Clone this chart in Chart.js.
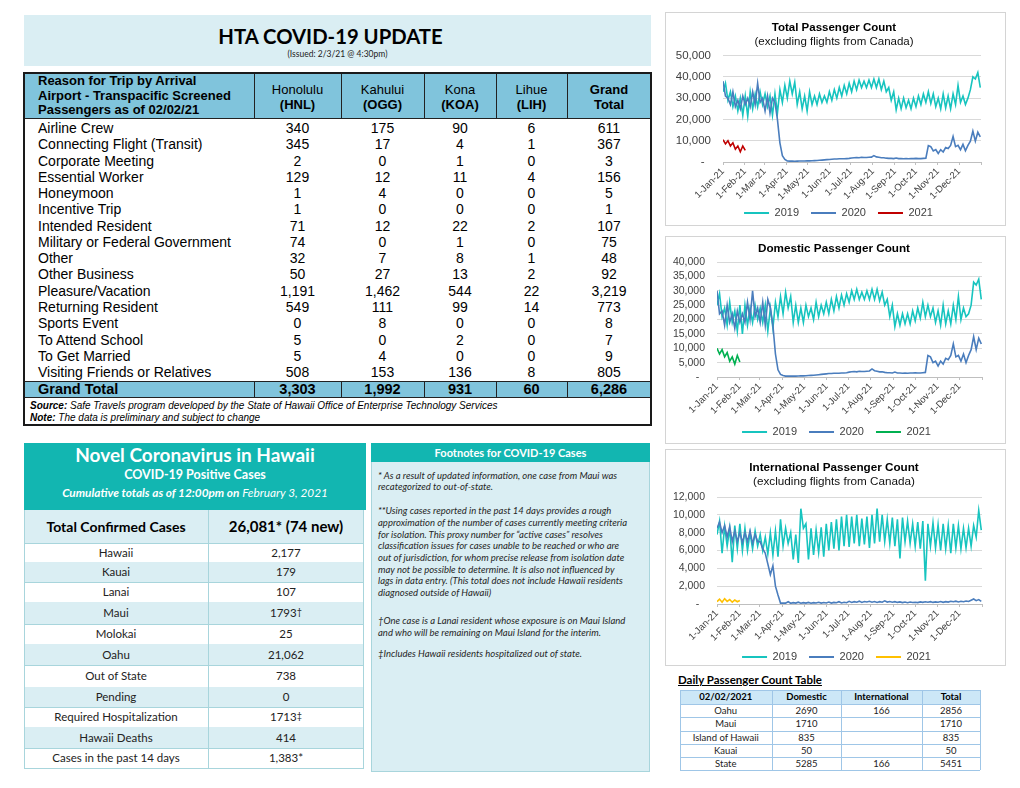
<!DOCTYPE html>
<html><head><meta charset="utf-8">
<script src="https://cdn.jsdelivr.net/npm/chart.js@4.4.1/dist/chart.umd.min.js"></script>
<style>
body{margin:0;background:#fff;}
#page{position:relative;width:1020px;height:788px;overflow:hidden;font-family:"Liberation Sans",Arial,sans-serif;color:#000;}
.a{position:absolute;box-sizing:border-box;white-space:nowrap;}
.cal{font-family:Lato,"Noto Sans",sans-serif;}
canvas{position:absolute;}
</style></head>
<body><div id="page"></div>
<script>
// ---------------- DATA ----------------
const REASONS = ['Airline Crew','Connecting Flight (Transit)','Corporate Meeting','Essential Worker','Honeymoon','Incentive Trip','Intended Resident','Military or Federal Government','Other','Other Business','Pleasure/Vacation','Returning Resident','Sports Event','To Attend School','To Get Married','Visiting Friends or Relatives'];
const HNL = [340,345,2,129,1,1,71,74,32,50,1191,549,0,5,5,508];
const OGG = [175,17,0,12,4,0,12,0,7,27,1462,111,8,0,4,153];
const KOA = [90,4,1,11,0,0,22,1,8,13,544,99,0,2,0,136];
const LIH = [6,1,0,4,0,0,2,0,1,2,22,14,0,0,0,8];
const TRIP_TOTAL = [611,367,3,156,5,1,107,75,48,92,3219,773,8,7,9,805];
const GRAND = [3303,1992,931,60,6286];

const CASE_LABELS = ['Total Confirmed Cases','Hawaii','Kauai','Lanai','Maui','Molokai','Oahu','Out of State','Pending','Required Hospitalization','Hawaii Deaths','Cases in the past 14 days'];
const CASE_VALUES = ['26,081* (74 new)','2,177','179','107','1793†','25','21,062','738','0','1713‡','414','1,383*'];

const DPC_ROWS = ['Oahu','Maui','Island of Hawaii','Kauai','State'];
const DPC_DOM = [2690,1710,835,50,5285];
const DPC_INTL = [166,null,null,null,166];
const DPC_TOT = [2856,1710,835,50,5451];

const MONTH_DAYS = [0,31,59,90,120,151,181,212,243,273,304,334,365];
const MONTH_LABELS = ['1-Jan-21','1-Feb-21','1-Mar-21','1-Apr-21','1-May-21','1-Jun-21','1-Jul-21','1-Aug-21','1-Sep-21','1-Oct-21','1-Nov-21','1-Dec-21',''];
const STEP = 3.5; // days between readings

const TOTAL_2019 = [33000,
37000,29000, 33000,26000, 31000,24000, 30000,22000, 31000,21500,
33000,25000, 32000,26000, 33000,27000, 32000,26000, 31000,22000,
32000,23000, 34000,28000, 36000,30000, 38000,32000, 37500,27000,
33000,25000, 31000,24000, 33000,27000, 31000,27000, 32000,28000,
31000,28000, 33000,29000, 34000,30000, 35000,31000, 36000,32000,
37000,33000, 38000,34000, 38500,35000, 38000,35000, 38500,35000,
39000,35000, 39000,34000, 38000,33000, 35000,29000, 33000,24500,
30000,25000, 30000,25500, 29000,25000, 30000,26000, 31000,27000,
32000,28000, 33000,27500, 32000,26000, 30000,25000, 32000,25500,
31000,25000, 32000,27000, 36000,28000, 31000,27000, 30000,34000,
40000,39000, 42000,35000];
const TOTAL_2020 = [38000, 31000,30000,27000,33000,26000,29000,25000,31000,27000,
30000,26000,33000,27000,37000,28000,30000,24000,31000,23000,
30000,28000,20000,9000,3000,1200,500,
400,400,350,400,450,450,500,550,
550,600,650,700,800,900,1000,1100,
1200,1300,1400,1400,1500,1500,1500,1600,1700,
1900,2000,2100,2000,2200,2100,2100,2200,2300,
3000,2400,2200,2000,2000,1800,1700,1700,1600,
1900,1600,1600,1500,1600,1500,1600,1600,
1700,1600,1600,1700,1800,
7700,7200,5200,5800,4000,5800,4700,6800,6300,7800,
12000,7200,7800,5800,8300,5300,7800,9800,14500,9800,14000,11800];
const TOTAL_2021 = [10500,8500,10000,7500,9000,6000,7500,4800,7500,5500];

const DOM_2019 = [25000,
29000,21000, 24000,18000, 26000,19000, 23000,16000, 25000,15000,
25000,18000, 24000,19000, 25000,20000, 24000,19000, 25000,16000,
24000,17000, 26000,21000, 28000,22000, 29500,24000, 28000,19000,
25000,19000, 24000,19000, 25000,21000, 24000,20000, 26000,21000,
25000,22000, 26000,22000, 27000,23000, 28000,24000, 28500,25000,
29000,26000, 30000,27000, 30500,27000, 29500,27000, 30000,27000,
30500,27000, 30500,26500, 29500,25000, 27000,21000, 25000,17500,
22000,18000, 22000,18500, 22000,18500, 23000,19500, 24000,20500,
26000,21000, 25000,21000, 24000,19000, 23000,18000, 25000,18500,
23000,18500, 25000,20000, 28000,20000, 24000,21000, 22000,25000,
33000,32000, 34000,27000];
const DOM_2020 = [30000, 22000,23000,18000,25000,19000,22000,17000,23000,19000,
22000,19000,26000,20000,30000,21000,24000,19000,26000,18000,
27000,24000,18000,8000,2500,900,500,
300,300,300,300,300,350,400,400,
450,500,550,600,700,800,900,1000,
1100,1200,1200,1300,1300,1300,1400,1400,1500,
1700,1800,1900,1800,2000,1900,1900,2000,2100,
2800,2200,2000,1800,1800,1600,1500,1500,1400,
1700,1400,1400,1300,1400,1300,1400,1400,
1500,1400,1400,1500,1600,
7500,7000,5000,5500,3800,5500,4500,6500,6000,7500,
11500,7000,7500,5500,8000,5000,7500,9500,14000,9500,13500,11500];
const DOM_2021 = [10000,8000,9500,7000,8500,5500,7000,4500,7500,5200];

const INTL_2019 = [7800,
9300,5700, 8700,6500, 8500,4700, 8800,6200, 9000,6000,
8500,6000, 8000,6200, 8200,6500, 7800,6000, 7500,5600,
8000,5500, 8200,5300, 9500,6500, 8500,6800, 8000,5000,
7800,4600, 10700,8500, 9000,5000, 8500,5500, 8300,5800,
8600,5300, 9000,6000, 9200,6200, 9500,6000, 9800,6500,
10000,6400, 9800,6800, 10000,6500, 9600,6700, 9800,6300,
10000,6800, 10700,7000, 10000,7000, 9500,6800, 9700,6500,
9500,5100, 9700,7000, 9300,6800, 9000,6500, 9200,6200,
9300,2600, 9000,6500, 9100,6300, 8900,6000, 9000,6200,
8800,5700, 9000,6300, 8800,6200, 8500,6300, 8500,6500,
8800,7500, 10500,8300];
const INTL_2020 = [8500, 9200,8000,8800,7500,8700,7000,8200,7000,8000,
6900,8000,7000,8200,6800,7800,7000,7000,6200,5700,
4500,3300,4300,2000,1000,100,100,
100,250,80,150,100,200,90,150,
100,180,90,150,120,200,100,160,
120,220,100,180,140,260,120,200,150,
300,180,260,200,320,180,280,220,300,
200,280,180,260,200,350,220,280,200,
260,180,240,160,220,150,230,170,
200,160,240,180,250,
200,260,180,240,200,280,190,260,210,300,
250,320,230,300,260,340,280,420,560,380,500,300];
const INTL_2021 = [250,550,200,600,300,500,200,450,250,400];

// ---------------- HELPERS ----------------
const page = document.getElementById('page');
function el(x, y, w, h, html, style, cls) {
  const d = document.createElement('div');
  d.className = 'a ' + (cls || '');
  d.style.cssText = `left:${x}px;top:${y}px;` + (w != null ? `width:${w}px;` : '') + (h != null ? `height:${h}px;` : '') + (style || '');
  d.innerHTML = html || '';
  page.appendChild(d);
  return d;
}
function txt(x, cy, w, lh, html, style, cls) { return el(x, cy - lh / 2, w, lh, html, `line-height:${lh}px;` + (style || ''), cls); }
const fmt = v => v.toLocaleString('en-US');

// ---------------- TITLE ----------------
el(24, 15, 627, 51, '', 'background:#daeef3;');
txt(17, 35.5, 627, 26, 'HTA COVID-19 UPDATE', 'font-size:20.3px;font-weight:700;text-align:center;', 'cal');
txt(24, 54, 627, 11, '(Issued: 2/3/21 @ 4:30pm)', 'font-size:8.5px;text-align:center;color:#222;', 'cal');

// ---------------- TRIP TABLE ----------------
const COLX = [24, 254, 341, 424, 496, 567, 651];
el(24, 73, 627, 45, '', 'background:#80c4dc;');
el(24, 381, 627, 16.5, '', 'background:#80c4dc;');
['Reason for Trip by Arrival','Airport - Transpacific Screened','Passengers as of 02/02/21'].forEach((t, i) =>
  txt(38, 81 + i * 14.5, 215, 14, t, 'font-size:13px;font-weight:700;'));
const HEADS = [['Honolulu','(HNL)'],['Kahului','(OGG)'],['Kona','(KOA)'],['Lihue','(LIH)'],['Grand','Total']];
HEADS.forEach((h, j) => {
  const x0 = COLX[j + 1], w = COLX[j + 2] - COLX[j + 1];
  txt(x0, 89, w, 15, h[0], 'font-size:13px;text-align:center;' + (j === 4 ? 'font-weight:700;' : ''));
  txt(x0, 104, w, 15, h[1], 'font-size:13px;text-align:center;font-weight:700;');
});
const COLS = [HNL, OGG, KOA, LIH, TRIP_TOTAL];
REASONS.forEach((r, i) => {
  const cy = 128 + i * 16.27;
  txt(38, cy, 215, 16, r, 'font-size:14px;');
  COLS.forEach((c, j) => txt(COLX[j + 1], cy, COLX[j + 2] - COLX[j + 1], 16, fmt(c[i]), 'font-size:14px;text-align:center;'));
});
txt(38, 389, 215, 16, 'Grand Total', 'font-size:14.5px;font-weight:700;');
GRAND.forEach((v, j) => txt(COLX[j + 1], 389, COLX[j + 2] - COLX[j + 1], 16, fmt(v), 'font-size:14.5px;font-weight:700;text-align:center;'));
txt(30, 406, 600, 12, '<b>Source:</b> Safe Travels program developed by the State of Hawaii Office of Enterprise Technology Services', 'font-size:10px;font-style:italic;');
txt(30, 418, 600, 12, '<b>Note:</b> The data is preliminary and subject to change', 'font-size:10px;font-style:italic;');
[118, 381, 397].forEach(y => el(24, y, 627, 1, '', 'background:#222;'));
COLX.slice(1, 6).forEach(x => { el(x, 73, 1, 45, '', 'background:#222;'); el(x, 381, 1, 16.5, '', 'background:#222;'); });
el(23, 72, 629, 354, '', 'border:2px solid #1a1a1a;');

// ---------------- COVID CASES ----------------
el(24, 443, 342, 67, '', 'background:#12b6b1;');
txt(24, 455, 342, 24, 'Novel Coronavirus in Hawaii', 'font-size:19px;font-weight:700;color:#fff;text-align:center;', 'cal');
txt(24, 475, 342, 16, 'COVID-19 Positive Cases', 'font-size:12.5px;font-weight:700;color:#fff;text-align:center;', 'cal');
txt(24, 492, 342, 15, '<b>Cumulative totals as of 12:00pm on</b> February 3, 2021', 'font-size:11.8px;font-style:italic;color:#fff;text-align:center;', 'cal');
const ROWY = [510,543,562,582,602,624,644,665,687,707,727,748,768];
CASE_LABELS.forEach((lab, i) => {
  const y0 = ROWY[i], h = ROWY[i + 1] - ROWY[i], cy = y0 + h / 2;
  if (i % 2 === 0) el(24, y0, 340, h, '', 'background:#daeef3;');
  const big = i === 0;
  const val = CASE_VALUES[i].replace(/([†‡])/g, '<span style="font-size:9px;position:relative;top:-2px;">$1</span>');
  txt(24, cy, 184, h, lab, big ? 'font-size:14px;font-weight:700;text-align:center;' : 'font-size:11.5px;text-align:center;color:#222;', 'cal');
  txt(208, cy, 156, h, val, big ? 'font-size:15px;font-weight:700;text-align:center;' : 'font-size:11.5px;text-align:center;color:#222;', 'cal');
  el(24, y0 + h, 340, 1, '', 'background:#a8d5dc;');
});
el(208, 510, 1, 258, '', 'background:#a8d5dc;');
el(24, 510, 1, 258, '', 'background:#a8d5dc;');
el(363, 510, 1, 258, '', 'background:#a8d5dc;');

// ---------------- FOOTNOTES ----------------
el(371, 443, 279, 329, '', 'background:#daeef3;border:1px solid #a8d5dc;');
el(371, 443, 279, 19, '', 'background:#12b6b1;');
txt(371, 452.5, 279, 16, 'Footnotes for COVID-19 Cases', 'font-size:11px;font-weight:700;color:#fff;text-align:center;', 'cal');
const FN = 'font-size:9.5px;font-style:italic;color:#262626;line-height:11.7px;';
el(378, 469.6, 270, null, '* As a result of updated information, one case from Maui was<br>recategorized to out-of-state.', FN, 'cal');
el(378, 505.2, 270, null, '**Using cases reported in the past 14 days provides a rough<br>approximation of the number of cases currently meeting criteria<br>for isolation. This proxy number for “active cases” resolves<br>classification issues for cases unable to be reached or who are<br>out of jurisdiction, for whom precise release from isolation date<br>may not be possible to determine. It is also not influenced by<br>lags in data entry. (This total does not include Hawaii residents<br>diagnosed outside of Hawaii)', FN, 'cal');
el(378, 615.2, 270, null, '†One case is a Lanai resident whose exposure is on Maui Island<br>and who will be remaining on Maui Island for the interim.', FN, 'cal');
el(378, 648.2, 270, null, '‡Includes Hawaii residents hospitalized out of state.', FN, 'cal');

// ---------------- DAILY PASSENGER TABLE ----------------
txt(678, 679.5, 200, 14, 'Daily Passenger Count Table', 'font-size:11.5px;font-weight:700;text-decoration:underline;', 'cal');
const DX = [679.5, 772, 841, 922, 980];
const DY = [690, 703.7, 717, 730.6, 744, 757, 770];
el(DX[0], DY[0], DX[4] - DX[0], DY[1] - DY[0], '', 'background:#cce7f7;');
['02/02/2021','Domestic','International','Total'].forEach((h, j) =>
  txt(DX[j], (DY[0] + DY[1]) / 2, DX[j + 1] - DX[j], 13, h, 'font-size:9.5px;font-weight:700;text-align:center;', 'cal'));
DPC_ROWS.forEach((r, i) => {
  const cy = (DY[i + 1] + DY[i + 2]) / 2;
  [r, DPC_DOM[i], DPC_INTL[i], DPC_TOT[i]].forEach((v, j) =>
    txt(DX[j], cy, DX[j + 1] - DX[j], 13, v == null ? '' : String(v), 'font-size:9.5px;text-align:center;color:#222;', 'cal'));
});
DY.forEach(y => el(DX[0], y, DX[4] - DX[0], 1, '', 'background:#9fc6e7;'));
DX.forEach(x => el(x, DY[0], 1, DY[6] - DY[0], '', 'background:#9fc6e7;'));

// ---------------- CHARTS ----------------
el(665, 12, 341, 214, '', 'border:1px solid #d4d4d4;');
el(665, 236, 341, 208, '', 'border:1px solid #d4d4d4;');
el(665, 449, 341, 217, '', 'border:1px solid #d4d4d4;');

function addCanvas(id, x, y, w, h) {
  const c = document.createElement('canvas');
  c.id = id; c.width = w; c.height = h;
  c.style.left = x + 'px'; c.style.top = y + 'px'; c.style.width = w + 'px'; c.style.height = h + 'px';
  page.appendChild(c);
  return c;
}

// moves title/legend blocks horizontally (and legend vertically) after layout
const shiftBoxes = {
  id: 'shiftBoxes',
  afterLayout(chart) {
    const o = chart.options.plugins.shiftBoxes || {};
    chart.boxes.forEach(b => {
      if (b.axis) return;
      if (b === chart.legend) { b.left += o.legendDX || 0; b.right += o.legendDX || 0; b.top += o.legendDY || 0; b.bottom += o.legendDY || 0; }
      else { b.left += o.titleDX || 0; b.right += o.titleDX || 0; }
    });
  }
};

const FONT = "'Liberation Sans', Arial, sans-serif";
const C19 = '#17c4bf', C20 = '#4a7dbd';
function lineChart(canvas, o) {
  const mk = vals => vals.map((v, i) => ({ x: i * STEP, y: v }));
  const ds = (label, vals, color, order) => ({ label, data: mk(vals), borderColor: color, backgroundColor: color, borderWidth: 1.6, pointRadius: 0, tension: 0, order });
  return new Chart(canvas, {
    type: 'line',
    plugins: [shiftBoxes],
    data: { datasets: [ds('2019', o.s19, C19, 3), ds('2020', o.s20, C20, 2), ds('2021', o.s21, o.c21, 1)] },
    options: {
      responsive: false, animation: false, devicePixelRatio: 1,
      layout: { padding: { left: o.padL, right: o.padR, top: 0, bottom: 0 } },
      plugins: {
        shiftBoxes: { titleDX: o.titleDX, legendDX: o.legendDX, legendDY: o.legendDY },
        title: { display: true, text: o.title, color: '#000', font: { family: FONT, size: o.tSize, weight: 'bold' }, padding: { top: o.tTop, bottom: o.tBot } },
        subtitle: { display: !!o.sub, text: o.sub || '', color: '#111', font: { family: FONT, size: o.tSize }, padding: { top: 0, bottom: o.sBot || 0 } },
        legend: { position: 'bottom', labels: { boxWidth: 25, boxHeight: 2, padding: 12, color: '#404040', font: { family: FONT, size: 11 },
          sort: (a, b) => a.datasetIndex - b.datasetIndex,
          generateLabels: ch => Chart.defaults.plugins.legend.labels.generateLabels(ch).map(l => Object.assign(l, { lineWidth: 0 })) } },
        tooltip: { enabled: false }
      },
      scales: {
        x: { type: 'linear', min: 0, max: 365,
          afterBuildTicks: s => { s.ticks = MONTH_DAYS.map(v => ({ value: v })); },
          ticks: { autoSkip: false, minRotation: 45, maxRotation: 45, padding: 1, color: '#404040', font: { family: FONT, size: 9.5 }, callback: (v, i) => MONTH_LABELS[i] },
          grid: { display: true, drawOnChartArea: false, drawTicks: true, tickLength: 3, color: '#bfbfbf' },
          border: { display: true, color: '#bfbfbf' },
          afterFit: s => { s.height = 42; } },
        y: { min: 0, max: o.max,
          ticks: { stepSize: o.step, autoSkip: false, padding: 12, color: '#404040', font: { family: FONT, size: o.yFont }, callback: v => v === 0 ? '-  ' : fmt(v) },
          grid: { color: '#d9d9d9', drawTicks: false },
          border: { display: false },
          afterFit: s => { s.width = o.yW; } }
      }
    }
  });
}

lineChart(addCanvas('c1', 664, 12, 342, 225), {
  s19: TOTAL_2019, s20: TOTAL_2020, s21: TOTAL_2021, c21: '#c00000',
  title: 'Total Passenger Count', sub: '(excluding flights from Canada)', tSize: 11.5, tTop: 9, tBot: 0, sBot: 7,
  padL: 11, padR: 25, yW: 48, max: 50000, step: 10000, yFont: 11.5,
  titleDX: 6, legendDX: 10.5, legendDY: -8.5
});
lineChart(addCanvas('c2', 664, 236, 342, 216), {
  s19: DOM_2019, s20: DOM_2020, s21: DOM_2021, c21: '#00b050',
  title: 'Domestic Passenger Count', tSize: 11.7, tTop: 6, tBot: 6,
  padL: 8, padR: 24, yW: 45, max: 40000, step: 5000, yFont: 10.5,
  titleDX: 7, legendDX: 9.5, legendDY: -4.5
});
lineChart(addCanvas('c3', 664, 450, 342, 229), {
  s19: INTL_2019, s20: INTL_2020, s21: INTL_2021, c21: '#ffc000',
  title: 'International Passenger Count', sub: '(excluding flights from Canada)', tSize: 11.7, tTop: 11, tBot: 0, sBot: 8,
  padL: 8, padR: 24, yW: 45, max: 12000, step: 2000, yFont: 10.5,
  titleDX: 7, legendDX: 9.5, legendDY: -6.5
});
</script></body></html>
